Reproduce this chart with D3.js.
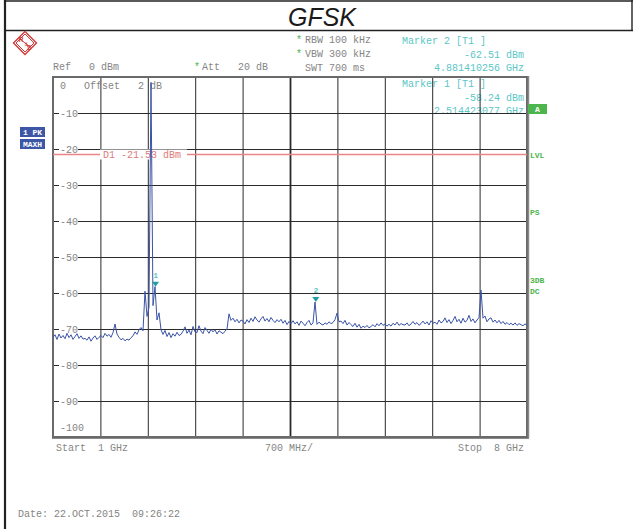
<!DOCTYPE html>
<html>
<head>
<meta charset="utf-8">
<script src="https://cdn.jsdelivr.net/npm/d3@7"></script>
<style>
  body { margin: 0; background: #fff; }
  svg { display: block; }
  .mono { font-family: "Liberation Mono", "DejaVu Sans Mono", monospace; font-size: 10px; white-space: pre; }
  .tag { font-family: "Liberation Mono", "DejaVu Sans Mono", monospace; font-size: 8px; font-weight: bold; white-space: pre; }
</style>
</head>
<body>
<svg id="chart" width="633" height="529"></svg>
<script>
// ---- sweep settings ----
const freqStartGHz = 1;
const freqStopGHz = 8;
const refLevelDbm = 0;
const bottomLevelDbm = -100;
const displayLineDbm = -21.53;

// ---- graticule ----
const xGridGHz = [1, 1.7, 2.4, 3.1, 3.8, 4.5, 5.2, 5.9, 6.6, 7.3, 8];
const yGridDbm = [-10, -20, -30, -40, -50, -60, -70, -80, -90];
const yGridLabels = ["-10", "-20", "-30", "-40", "-50", "-60", "-70", "-80", "-90"];

// ---- markers ----
const markerIds = [1, 2];
const markerFreqGHz = [2.514423077, 4.881410256];
const markerLevelDbm = [-58.24, -62.51];

// ---- trace 1 (max hold, positive peak), equally spaced from start to stop ----
const traceDbm = [
  -72.3, -71.6, -72.9, -71.4, -72.5, -71.8, -72.7, -71.2,
  -72.4, -71.6, -72.9, -72.1, -71.3, -72.6, -71.9, -72.8,
  -72.6, -73.1, -72.2, -73.4, -72.5, -71.9, -72.9, -72.3,
  -71.8, -72.4, -71.2, -72.0, -71.5, -72.3, -71.0, -68.6,
  -71.4, -72.3, -73.0, -72.6, -73.3, -72.8, -73.1, -72.4,
  -71.9, -70.8, -71.5, -70.2, -69.6, -70.5, -59.5, -66.5,
  -64.0, -1.5, -63.5, -58.24, -67.5, -65.5, -70.2, -71.5,
  -70.4, -72.1, -71.0, -72.4, -71.3, -72.0, -70.9, -71.8,
  -71.5, -70.6, -69.4, -71.2, -70.3, -71.6, -69.3, -70.8,
  -71.0, -69.1, -70.6, -71.3, -69.6, -70.4, -71.2, -70.1,
  -70.8, -70.2, -71.4, -70.5, -70.9, -71.3, -70.6, -70.0,
  -65.8, -67.6, -67.0, -68.0, -67.3, -68.3, -67.5, -67.8,
  -68.6, -67.4, -68.2, -67.0, -67.9, -66.6, -67.5, -68.1,
  -67.2, -66.5, -67.8, -67.1, -68.0, -66.8, -67.6, -68.2,
  -67.4, -68.0, -67.3, -68.4, -67.6, -68.8, -67.9, -68.5,
  -67.7, -68.6, -68.0, -69.0, -67.8, -68.4, -69.1, -68.2,
  -67.6, -68.9, -68.3, -62.51, -68.7, -68.1, -68.6, -68.9,
  -68.3, -68.7, -68.0, -68.5, -68.2, -67.4, -65.6, -68.0,
  -67.8, -68.5, -67.6, -68.9, -68.2, -68.8, -69.3, -68.4,
  -69.5, -68.7, -69.8, -69.2, -69.6, -69.0, -69.7, -69.3,
  -68.8, -69.4, -68.5, -69.1, -68.3, -69.0, -68.6, -69.2,
  -68.7, -69.2, -68.4, -68.9, -68.1, -69.0, -68.5, -68.8,
  -68.9, -68.3, -69.1, -68.6, -67.9, -68.7, -68.2, -69.0,
  -68.5, -67.8, -68.6, -68.0, -68.9, -67.7, -68.4, -68.1,
  -68.7, -67.5, -68.3, -67.9, -66.9, -68.2, -67.4, -68.5,
  -67.6, -66.5, -68.0, -67.3, -68.4, -67.0, -68.1, -67.6,
  -66.2, -67.9, -67.2, -68.3, -67.5, -66.8, -59.2, -67.0,
  -66.4, -68.0, -67.2, -66.9, -68.1, -67.5, -68.3, -67.6,
  -68.5, -67.9, -68.7, -68.2, -68.8, -68.4, -68.9, -68.3,
  -69.0, -68.5, -68.8, -69.1, -68.6, -68.9
];

// ---- layout ----
const plot = { left: 53, top: 77, right: 527, bottom: 437 };
const textGray = "#858585";
const cyan = "#5cc6c6";
const green = "#4db54d";
const traceBlue = "#3a53a6";

const svg = d3.select("#chart");
svg.append("rect").attr("width", 633).attr("height", 529).attr("fill", "#fff");

const x = d3.scaleLinear().domain([freqStartGHz, freqStopGHz]).range([plot.left, plot.right]);
const y = d3.scaleLinear().domain([bottomLevelDbm, refLevelDbm]).range([plot.bottom, plot.top]);
const sweepFreq = i => freqStartGHz + (freqStopGHz - freqStartGHz) * i / (traceDbm.length - 1);

// ---- page frame and title ----
svg.append("line").attr("x1", 5).attr("x2", 5).attr("y1", 0).attr("y2", 529)
  .attr("stroke", "#222").attr("stroke-width", 2.2);
svg.append("line").attr("x1", 5).attr("x2", 633).attr("y1", 1).attr("y2", 1)
  .attr("stroke", "#222").attr("stroke-width", 1.6);
svg.append("line").attr("x1", 5).attr("x2", 633).attr("y1", 30.5).attr("y2", 30.5)
  .attr("stroke", "#222").attr("stroke-width", 1.4);
svg.append("line").attr("x1", 632).attr("x2", 632).attr("y1", 0).attr("y2", 30.5)
  .attr("stroke", "#222").attr("stroke-width", 1.4);
svg.append("text").attr("x", 322).attr("y", 25.5).attr("text-anchor", "middle")
  .attr("font-family", "Liberation Sans, Arial, sans-serif").attr("font-style", "italic")
  .attr("font-size", 25).attr("fill", "#1a1a1a").text("GFSK");

// ---- maker logo ----
const logo = svg.append("g").attr("transform", "translate(25,43)");
const diamond = r => `M0,${-r}L${r},0L0,${r}L${-r},0Z`;
logo.append("path").attr("d", diamond(11.5)).attr("fill", "none").attr("stroke", "#d23a3a").attr("stroke-width", 1.4);
logo.append("path").attr("d", diamond(9)).attr("fill", "none").attr("stroke", "#d23a3a").attr("stroke-width", 1);
logo.append("line").attr("x1", -5).attr("y1", -4).attr("x2", 5).attr("y2", 4).attr("stroke", "#d23a3a").attr("stroke-width", 1);
logo.append("text").attr("x", -4).attr("y", -1).attr("text-anchor", "middle").attr("font-family", "Liberation Sans, sans-serif")
  .attr("font-size", 7).attr("font-weight", "bold").attr("fill", "#d23a3a").text("R");
logo.append("text").attr("x", 4).attr("y", 7).attr("text-anchor", "middle").attr("font-family", "Liberation Sans, sans-serif")
  .attr("font-size", 7).attr("font-weight", "bold").attr("fill", "#d23a3a").text("S");
logo.append("text").attr("x", 1.5).attr("y", 2.5).attr("text-anchor", "middle").attr("font-family", "Liberation Sans, sans-serif")
  .attr("font-size", 5).attr("fill", "#d23a3a").text("&");

// ---- instrument settings header ----
function mono(xp, yp, str, fill, anchor) {
  return svg.append("text").attr("class", "mono").attr("x", xp).attr("y", yp)
    .attr("text-anchor", anchor || "start").attr("fill", fill || textGray).text(str);
}
mono(53, 70, "Ref   0 dBm");
mono(194, 70, "*", green); mono(202, 70, "Att   20 dB");
mono(296, 43, "*", green); mono(305, 43, "RBW 100 kHz");
mono(296, 57, "*", green); mono(305, 57, "VBW 300 kHz");
mono(305, 71, "SWT 700 ms");

// marker readouts (marker 2 first, then marker 1)
const readoutTop = [44, 87];
[1, 0].forEach((m, k) => {
  const y0 = readoutTop[k];
  mono(402, y0, `Marker ${markerIds[m]} [T1 ]`, cyan);
  mono(524, y0 + 13.5, `${markerLevelDbm[m].toFixed(2)} dBm`, cyan, "end");
  mono(524, y0 + 27, `${markerFreqGHz[m].toFixed(9)} GHz`, cyan, "end");
});

// ---- graticule ----
const gx = svg.append("g").attr("transform", `translate(0,${plot.bottom})`)
  .call(d3.axisBottom(x).tickValues(xGridGHz).tickSize(-(plot.bottom - plot.top)).tickFormat(""));
gx.select(".domain").remove();
gx.selectAll(".tick line").attr("stroke", "#2a2a2a").attr("stroke-width", 1)
  .filter(d => d === 4.5).attr("stroke-width", 1.8);

const gy = svg.append("g").attr("transform", `translate(${plot.left},0)`)
  .call(d3.axisRight(y).tickValues(yGridDbm).tickSize(plot.right - plot.left).tickFormat(""));
gy.select(".domain").remove();
gy.selectAll(".tick line").attr("stroke", "#2a2a2a").attr("stroke-width", 1);

// plot border
svg.append("rect").attr("x", plot.left).attr("y", plot.top)
  .attr("width", plot.right - plot.left).attr("height", plot.bottom - plot.top)
  .attr("fill", "none").attr("stroke", "#6a6a6a").attr("stroke-width", 2);
svg.append("line").attr("x1", plot.right + 1.5).attr("x2", plot.right + 1.5)
  .attr("y1", plot.top - 1).attr("y2", plot.bottom + 1).attr("stroke", "#8a8a8a").attr("stroke-width", 1.5);
svg.append("line").attr("x1", plot.left - 1).attr("x2", plot.right + 2)
  .attr("y1", plot.bottom + 1.5).attr("y2", plot.bottom + 1.5).attr("stroke", "#8a8a8a").attr("stroke-width", 1.2);

// level labels, sitting on their grid lines
yGridDbm.forEach((v, i) => {
  svg.append("rect").attr("x", 59).attr("y", y(v) - 4).attr("width", 19).attr("height", 8).attr("fill", "#fff");
  mono(60, y(v) + 3.5, yGridLabels[i]);
});
mono(60, 431, "-100");
mono(60, 89, "0   Offset   2 dB");

// ---- display line D1 ----
const yD1 = y(displayLineDbm);
svg.append("line").attr("x1", plot.left).attr("x2", plot.right).attr("y1", yD1).attr("y2", yD1)
  .attr("stroke", "#e98585").attr("stroke-width", 1.4);
svg.append("rect").attr("x", 100).attr("y", yD1 - 5).attr("width", 87).attr("height", 10).attr("fill", "#fff");
mono(103, yD1 + 3.5, `D1 ${displayLineDbm.toFixed(2)} dBm`, "#e07a7a");

// ---- trace ----
svg.append("clipPath").attr("id", "plotClip").append("rect")
  .attr("x", plot.left).attr("y", plot.top).attr("width", plot.right - plot.left).attr("height", plot.bottom - plot.top);
const line = d3.line().x((d, i) => x(sweepFreq(i))).y(d => y(d));
svg.append("path").datum(traceDbm).attr("d", line).attr("clip-path", "url(#plotClip)")
  .attr("fill", "none").attr("stroke", traceBlue).attr("stroke-width", 1).attr("stroke-linejoin", "round");

// ---- markers ----
markerIds.forEach((id, m) => {
  const mx = x(markerFreqGHz[m]);
  const my = y(markerLevelDbm[m]);
  svg.append("path").attr("d", `M${mx - 3.5},${my - 5}L${mx + 3.5},${my - 5}L${mx},${my}Z`).attr("fill", "#22a0a0");
  svg.append("text").attr("class", "tag").attr("x", mx).attr("y", my - 9)
    .attr("text-anchor", "middle").attr("fill", cyan).attr("font-weight", "normal").text(id);
});

// ---- side annotations ----
function badge(bx, by, bw, str, fill) {
  svg.append("rect").attr("x", bx).attr("y", by).attr("width", bw).attr("height", 10).attr("fill", fill);
  svg.append("text").attr("class", "tag").attr("x", bx + bw / 2).attr("y", by + 8)
    .attr("text-anchor", "middle").attr("fill", "#fff").text(str);
}
badge(528, 104, 19, "A", green);
badge(20, 127, 25, "1 PK", "#3d56a6");
badge(20, 139, 25, "MAXH", "#3d56a6");

[["LVL", 158], ["PS", 215], ["3DB", 283], ["DC", 294]].forEach(([t, ty]) => {
  svg.append("text").attr("class", "tag").attr("x", 530).attr("y", ty).attr("fill", green).text(t);
});

// ---- span annotations ----
mono(56, 451, "Start  1 GHz");
mono(265, 451, "700 MHz/");
mono(524, 451, "Stop  8 GHz", textGray, "end");
mono(18, 517, "Date: 22.OCT.2015  09:26:22");
</script>
</body>
</html>
